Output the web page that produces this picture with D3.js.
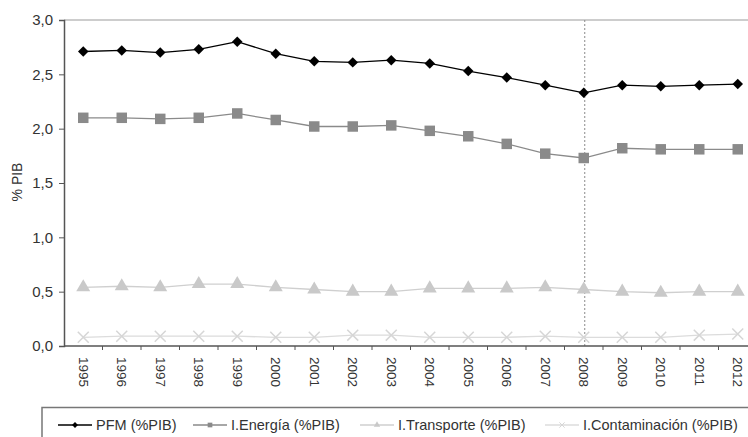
<!DOCTYPE html>
<html>
<head>
<meta charset="utf-8">
<script src="https://cdn.jsdelivr.net/npm/d3@7"></script>
<style>
  body { margin: 0; background: #fff; }
  svg { font-family: "Liberation Sans", Arial, sans-serif; }
</style>
</head>
<body>
<div class="container"></div>
<script>
// data
const years = ['1995','1996','1997','1998','1999','2000','2001','2002','2003','2004','2005','2006','2007','2008','2009','2010','2011','2012']
const pfm = [2.71, 2.72, 2.70, 2.73, 2.80, 2.69, 2.62, 2.61, 2.63, 2.60, 2.53, 2.47, 2.40, 2.33, 2.40, 2.39, 2.40, 2.41]
const energia = [2.10, 2.10, 2.09, 2.10, 2.14, 2.08, 2.02, 2.02, 2.03, 1.98, 1.93, 1.86, 1.77, 1.73, 1.82, 1.81, 1.81, 1.81]
const transporte = [0.54, 0.55, 0.54, 0.57, 0.57, 0.54, 0.52, 0.50, 0.50, 0.53, 0.53, 0.53, 0.54, 0.52, 0.50, 0.49, 0.50, 0.50]
const contaminacion = [0.08, 0.09, 0.09, 0.09, 0.09, 0.08, 0.08, 0.10, 0.10, 0.08, 0.08, 0.08, 0.09, 0.08, 0.08, 0.08, 0.10, 0.11]
const yTicks = [0, 0.5, 1, 1.5, 2, 2.5, 3]
const markYear = '2008'

const series = [
    { name: 'PFM (%PIB)', values: pfm, line: '#000', fill: '#000', sym: d3.symbolDiamond2, size: 70, lsize: 22 },
    { name: 'I.Energía (%PIB)', values: energia, line: '#8a8a8a', fill: '#8a8a8a', sym: d3.symbolSquare, size: 110, lsize: 22 },
    { name: 'I.Transporte (%PIB)', values: transporte, line: '#cfcfcf', fill: '#c9c9c9', sym: d3.symbolTriangle, size: 85, lsize: 18 },
    { name: 'I.Contaminación (%PIB)', values: contaminacion, line: '#dcdcdc', fill: '#d6d6d6', sym: d3.symbolX, size: 80, lsize: 20 }
]

const width = 748, height = 437
const margin = {top: 20, left: 64, bottom: 91}
const step = 38.5

const svg = d3.select('.container')
    .append('svg')
    .attr('width', width)
    .attr('height', height)

const x = d3.scaleBand()
    .domain(years)
    .range([margin.left, margin.left + step * years.length])

const y = d3.scaleLinear()
    .domain([0, 3])
    .range([height - margin.bottom, margin.top])

const fmt = d3.formatLocale({decimal: ',', thousands: '.', grouping: [3], currency: ['', '€']}).format('.1f')
const cx = d => x(d) + x.bandwidth() / 2

// top border line of plot area
svg.append('line')
    .attr('x1', margin.left).attr('x2', width)
    .attr('y1', y(3)).attr('y2', y(3))
    .attr('stroke', '#bdbdbd').attr('stroke-width', 1.5)

// dashed marker at 2008
svg.append('line')
    .attr('x1', cx(markYear) + 1).attr('x2', cx(markYear) + 1)
    .attr('y1', y(3)).attr('y2', y(0))
    .attr('stroke', '#8a8a8a').attr('stroke-width', 1)
    .attr('stroke-dasharray', '2,2')

// y axis
const yAxis = svg.append('g')
    .attr('transform', `translate(${margin.left},0)`)
    .call(d3.axisLeft(y).tickValues(yTicks).tickFormat(fmt).tickSize(5).tickPadding(6))
yAxis.select('.domain').attr('stroke', '#555').attr('stroke-width', 1.5)
yAxis.selectAll('.tick line').attr('stroke', '#555')
yAxis.selectAll('text').attr('font-size', 15).attr('fill', '#333')

// x axis
const xAxis = svg.append('g')
    .attr('transform', `translate(0,${y(0)})`)
xAxis.append('line')
    .attr('x1', margin.left).attr('x2', width)
    .attr('stroke', '#555').attr('stroke-width', 1.5)
xAxis.selectAll('.xtick')
    .data(years.slice(1))
    .join('line')
    .attr('x1', d => x(d)).attr('x2', d => x(d))
    .attr('y1', 0).attr('y2', 4)
    .attr('stroke', '#555')
xAxis.selectAll('.xlabel')
    .data(years)
    .join('text')
    .attr('transform', d => `translate(${cx(d)},11) rotate(90)`)
    .attr('dy', '0.35em')
    .attr('font-size', 13.5)
    .attr('fill', '#333')
    .text(d => d)

// y title
svg.append('text')
    .attr('transform', `translate(17,182) rotate(-90)`)
    .attr('text-anchor', 'middle')
    .attr('dy', '0.35em')
    .attr('font-size', 14)
    .attr('fill', '#333')
    .text('% PIB')

// lines + markers
const line = d3.line()
    .x((d, i) => cx(years[i]))
    .y(d => y(d))

series.slice().reverse().forEach(s => {
    svg.append('path')
        .datum(s.values)
        .attr('fill', 'none')
        .attr('stroke', s.line)
        .attr('stroke-width', 1.3)
        .attr('d', line)
    const sym = d3.symbol().type(s.sym).size(s.size)
    svg.append('g').selectAll('path')
        .data(s.values)
        .join('path')
        .attr('transform', (d, i) => `translate(${cx(years[i])},${y(d)})`)
        .attr('d', sym)
        .attr('fill', s.sym === d3.symbolX ? 'none' : s.fill)
        .attr('stroke', s.fill)
        .attr('stroke-width', s.sym === d3.symbolX ? 1.5 : 0)
})

// legend
const legend = svg.append('g')
legend.append('path')
    .attr('d', `M42,${height + 5}V407.5H${width + 5}`)
    .attr('fill', 'none')
    .attr('stroke', '#777')
    .attr('stroke-width', 1.5)

const legX = [58, 193, 360, 545]
const legY = 425
series.forEach((s, i) => {
    const g = legend.append('g').attr('transform', `translate(${legX[i]},${legY})`)
    g.append('line')
        .attr('x1', 0).attr('x2', 34)
        .attr('stroke', s.line).attr('stroke-width', 1.3)
    g.append('path')
        .attr('transform', 'translate(17,0)')
        .attr('d', d3.symbol().type(s.sym).size(s.lsize))
        .attr('fill', s.sym === d3.symbolX ? 'none' : s.fill)
        .attr('stroke', s.fill)
        .attr('stroke-width', s.sym === d3.symbolX ? 1 : 0)
    g.append('text')
        .attr('x', 38)
        .attr('dy', '0.35em')
        .attr('font-size', 14.5)
        .attr('fill', '#333')
        .text(s.name)
})
</script>
</body>
</html>
